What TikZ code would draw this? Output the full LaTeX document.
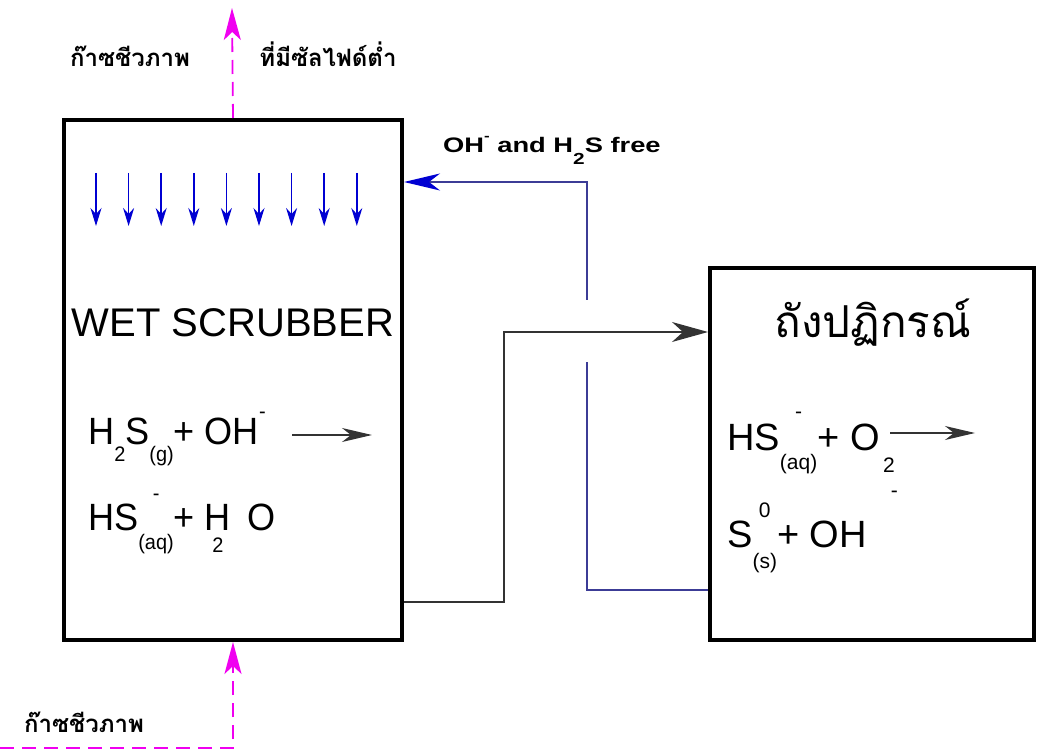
\documentclass[tikz,border=0pt]{standalone}
\usepackage{fontspec}
\setmainfont{Liberation Sans}
\newfontfamily\thai[Script=Thai]{Loma}
\usetikzlibrary{arrows.meta}
\definecolor{mag}{RGB}{240,0,240}
\definecolor{navy}{RGB}{60,60,150}
\definecolor{brightblue}{RGB}{0,0,210}
\newcommand\chsub[2][-17pt]{\raisebox{#1}{\fontsize{21}{21}\selectfont #2}}
\newcommand\chsup[2][26pt]{\raisebox{#1}{\fontsize{21}{21}\selectfont #2}}
\newcommand\chboth[4]{\setbox0\hbox{\chsub[#3]{#2}}\rlap{\makebox[\wd0]{\chsup[#4]{#1}}}\box0}
\newcommand\chunder[2]{\setbox0\hbox{#1}\rlap{\makebox[\wd0]{\chsub[-22pt]{#2}}}\box0}
\tikzset{
  x=1pt, y=-1pt,
  box/.style={draw, line width=4pt, inner sep=0pt},
  blk/.style={draw=black!80, line width=1.5pt},
  bluel/.style={draw=navy, line width=1.4pt},
  gas/.style={draw=mag, line width=1.8pt, dash pattern=on 14pt off 8pt},
  gastip/.style={-{Stealth[length=32pt,width=17pt,inset=8pt]}},
  bigtip/.style={-{Stealth[length=36pt,width=20pt,inset=11pt]}},
  smalltip/.style={-{Stealth[length=30pt,width=14pt,inset=9pt]}},
  dropa/.style={draw=brightblue, line width=1.5pt, -{Stealth[length=18pt,width=11pt,inset=6pt]}},
  chem/.style={font=\fontsize{38}{40}\selectfont, inner sep=0pt, anchor=base west},
  thlab/.style={font=\thai\bfseries\fontsize{24}{26}\selectfont, inner sep=0pt, anchor=base},
}
\begin{document}
\begin{tikzpicture}
\useasboundingbox (0,0) rectangle (1037,751);
% boxes
\node[box, minimum width=338pt, minimum height=520pt] (scrub) at (233,380) {};
\node[box, minimum width=324pt, minimum height=372pt] (reac) at (872,454) {};
% titles
\node[inner sep=0pt, anchor=base, font=\fontsize{40}{42}\selectfont] (wst) at (233,337) {WET SCRUBBER};
\node[inner sep=0pt, anchor=base, font=\thai\fontsize{44}{46}\selectfont] (rt) at (873,338) {ถังปฏิกรณ์};
% spray arrows
\foreach \i in {0,...,8} {
  \coordinate (d\i) at ({96+32.6*\i},173);
  \coordinate (e\i) at ({96+32.6*\i},226);
  \draw[dropa] (d\i) -- (e\i);
}
% chemistry in scrubber
\node[chem] (c1) at (88,445) {\scalebox{0.95}[1]{H\chsub{2}S\chsub{(g)}+ OH\chsup{-}}};
\coordinate (a1s) at (292,435); \coordinate (a1e) at (372,435);
\draw[blk, line width=1.3pt, smalltip] (a1s) -- (a1e);
\node[chem] (c2) at (88,530) {\scalebox{0.95}[1]{HS\chboth{-}{(aq)}{-19pt}{30pt}+ \chunder{H}{2}\ \,O}};
% chemistry in reactor
\node[chem] (c3) at (727,450) {HS\chboth{-}{(aq)}{-19pt}{32pt}+ O\chsub[-22pt]{\,2}};
\coordinate (a2s) at (890,433); \coordinate (a2e) at (975,433);
\draw[blk, line width=1.3pt, smalltip] (a2s) -- (a2e);
\node[chem] (c4) at (727,547) {S\chboth{0}{(s)}{-21pt}{30pt}+ OH\hspace{24pt}\chsup[50pt]{-}};
% gas lines
\coordinate (gtop) at (232,8);
\draw[gas, gastip] (scrub.north) -- (gtop);
\coordinate (gin) at (0,748);
\draw[gas, gastip] (gin) -| (scrub.south);
\node[thlab] (lt1) at (130,67) {ก๊าซชีวภาพ};
\node[thlab] (lt2) at (328,67) {ที่มีซัลไฟด์ต่ำ};
\node[thlab] (lb) at (84,732) {ก๊าซชีวภาพ};
% liquid from scrubber to reactor
\coordinate (k1) at (504,332);
\draw[blk, bigtip] (scrub.east |- 0,602) -| (k1) -- (reac.west |- k1);
% recycle from reactor to scrubber
\coordinate (r1) at (587,362);
\coordinate (r2) at (587,300);
\coordinate (r3) at (587,182);
\draw[bluel] (reac.west |- 0,590) -| (r1);
\draw[bluel, -{Stealth[length=36pt,width=17pt,inset=11pt,fill=brightblue,color=brightblue]}] (r2) -- (r3) -- (scrub.east |- r3);
\node[inner sep=0pt, anchor=base west, font=\bfseries\fontsize{21}{23}\selectfont] (free) at (443,153) {\scalebox{1.3}[1]{OH\raisebox{12pt}{\fontsize{13}{13}\selectfont -} and H\raisebox{-12pt}{\fontsize{16}{16}\selectfont 2}S free}};
\end{tikzpicture}
\end{document}
